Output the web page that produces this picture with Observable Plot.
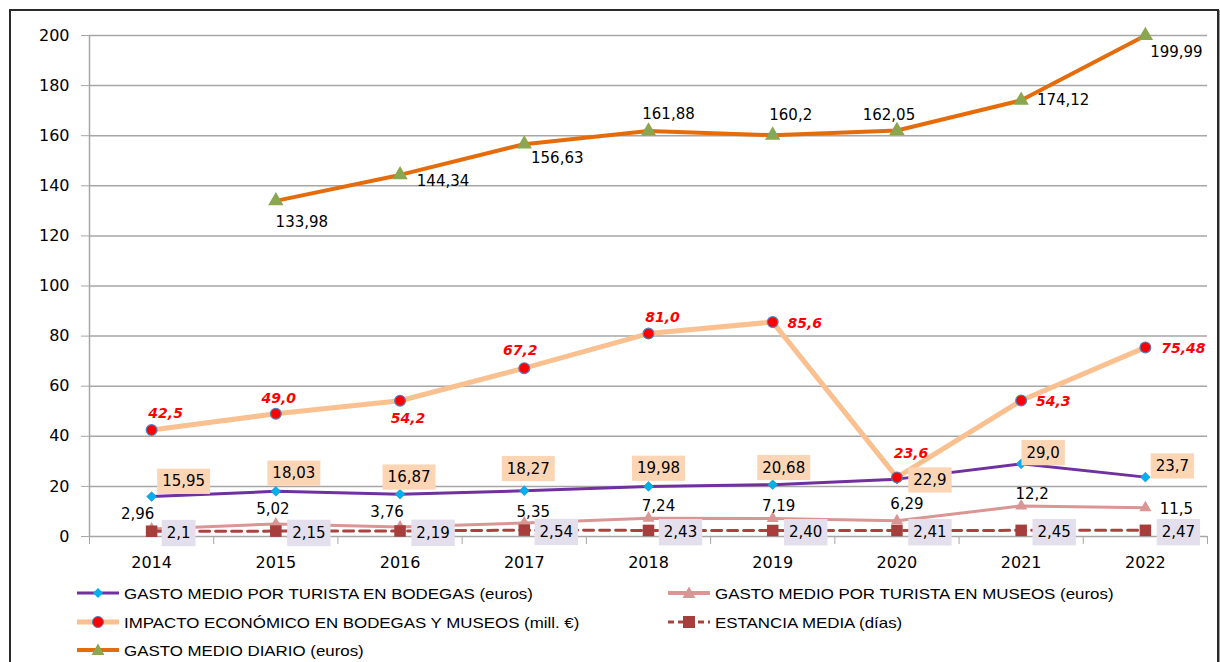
<!DOCTYPE html>
<html>
<head>
<meta charset="utf-8">
<script src="https://cdn.jsdelivr.net/npm/d3@7"></script>
<script src="https://cdn.jsdelivr.net/npm/@observablehq/plot@0.6"></script>
<style>
  html, body { margin: 0; padding: 0; background: #fff; }
  #wrap { position: relative; width: 1220px; height: 662px; overflow: hidden; background: #fff; }
  #chart { position: absolute; left: 0; top: 0; }
  .frame { position: absolute; left: 9px; top: 9px; width: 1206px; height: 720px; border: 2px solid #2a2a2a; box-shadow: 1px 1px 0 #9a9a9a; pointer-events: none; }
  .leg { position: absolute; height: 20px; display: flex; align-items: center; font-family: "Liberation Sans", Arial, sans-serif; font-size: 15px; color: #000; white-space: nowrap; }
  .leg svg { margin-right: 5px; }
  .leg span { display: inline-block; transform: scaleX(1.125); transform-origin: left center; }
</style>
</head>
<body>
<div id="wrap">
  <div id="chart"></div>
  <div id="legend"></div>
  <div class="frame"></div>
</div>
<script>
// ---------------- DATA ----------------
const years = [2014, 2015, 2016, 2017, 2018, 2019, 2020, 2021, 2022];
const yTicks = [0, 20, 40, 60, 80, 100, 120, 140, 160, 180, 200];

const bodegas = [15.95, 18.03, 16.87, 18.27, 19.98, 20.68, 22.9, 29.0, 23.7];
const bodegasLabels = ["15,95", "18,03", "16,87", "18,27", "19,98", "20,68", "22,9", "29,0", "23,7"];

const museos = [2.96, 5.02, 3.76, 5.35, 7.24, 7.19, 6.29, 12.2, 11.5];
const museosLabels = ["2,96", "5,02", "3,76", "5,35", "7,24", "7,19", "6,29", "12,2", "11,5"];

const impacto = [42.5, 49.0, 54.2, 67.2, 81.0, 85.6, 23.6, 54.3, 75.48];
const impactoLabels = ["42,5", "49,0", "54,2", "67,2", "81,0", "85,6", "23,6", "54,3", "75,48"];

const estancia = [2.1, 2.15, 2.19, 2.54, 2.43, 2.40, 2.41, 2.45, 2.47];
const estanciaLabels = ["2,1", "2,15", "2,19", "2,54", "2,43", "2,40", "2,41", "2,45", "2,47"];

const diario = [null, 133.98, 144.34, 156.63, 161.88, 160.2, 162.05, 174.12, 199.99];
const diarioLabels = [null, "133,98", "144,34", "156,63", "161,88", "160,2", "162,05", "174,12", "199,99"];

const seriesNames = [
  "GASTO MEDIO POR TURISTA EN BODEGAS (euros)",
  "GASTO MEDIO POR TURISTA EN MUSEOS (euros)",
  "IMPACTO ECONÓMICO EN BODEGAS Y MUSEOS (mill. €)",
  "ESTANCIA MEDIA (días)",
  "GASTO MEDIO DIARIO (euros)"
];

// ---------------- LABEL PLACEMENT (pixel offsets from each point) ----------------
const bodegasOffsets = [[32,-15],[18,-18],[9,-17],[4,-22],[10,-18],[11,-17],[33,1],[22,-11],[27,-11]];
const museosOffsets = [[-14,-15],[-3,-15],[-13,-15],[9,-11],[10,-12],[6,-12],[10,-17],[11,-12],[31,1]];
const impactoOffsets = [[14,-17],[3,-15],[8,18],[-4,-18],[14,-16],[32,1],[14,-24],[32,1],[38,1]];
const estanciaOffsets = [[27,2],[33,2],[33,2],[32,2],[32,2],[33,2],[33,2],[33,2],[33,2]];
const diarioOffsets = [null,[26,21],[43,6],[33,14],[20,-17],[18,-20],[-8,-15],[42,0],[31,17]];

// ---------------- STYLES ----------------
const C = {
  grid: "#a6a6a6",
  bodegas: "#7030A0", bodegasDot: "#00B0F0",
  museos: "#D99694",
  impacto: "#FAC090", impactoDot: "#FF0000", impactoDotStroke: "#4F81BD",
  estancia: "#A8443F", estanciaDot: "#A63F3C",
  diario: "#E46C0A", diarioDot: "#8AA64F",
  boxBodegas: "#FCD5B5", boxEstancia: "#E4DFEC"
};

const rows = vals => years.map((year, i) => ({year, v: vals[i]})).filter(d => d.v != null);

const tagged = cls => ({
  render(index, scales, values, dims, context, next) {
    const g = next(index, scales, values, dims, context);
    if (g) g.classList.add(cls);
    return g;
  }
});

function labels(vals, texts, offsets, opts) {
  const out = [];
  years.forEach((year, i) => {
    if (vals[i] == null) return;
    out.push(Plot.text([{year, v: vals[i], t: texts[i]}], {
      x: "year", y: "v", text: "t",
      dx: offsets[i][0], dy: offsets[i][1],
      textAnchor: "middle", ...opts
    }));
  });
  return out;
}

const boundaries = d3.range(years.length + 1).map(i => years[0] - 0.5 + i);

const W = 1220, H = 575;
const plot = Plot.plot({
  width: W, height: H,
  marginLeft: 89, marginRight: 13, marginTop: 35, marginBottom: 39,
  x: {type: "linear", domain: [years[0] - 0.5, years[years.length - 1] + 0.5]},
  y: {domain: [0, 200]},
  style: {fontFamily: "DejaVu Sans", fontSize: "15px", background: "transparent", color: "#000"},
  marks: [
    Plot.gridY(yTicks, {stroke: C.grid, strokeOpacity: 1, strokeWidth: 1.5}),
    Plot.ruleX([years[0] - 0.5], {stroke: C.grid, strokeWidth: 1.5}),
    Plot.axisY({ticks: yTicks, tickSize: 8, tickPadding: 12, stroke: C.grid, strokeOpacity: 1, fill: "#000", fontSize: 16, label: null, tickFormat: d => String(d)}),
    Plot.axisX({ticks: boundaries, tickSize: 8, tickFormat: () => "", stroke: C.grid, strokeOpacity: 1, label: null}),
    Plot.axisX({ticks: years, tickSize: 0, tickPadding: 20, tickFormat: d => String(d), fill: "#000", fontSize: 16, label: null}),

    // series: bodegas
    Plot.line(rows(bodegas), {x: "year", y: "v", stroke: C.bodegas, strokeWidth: 3}),
    Plot.dot(rows(bodegas), {x: "year", y: "v", symbol: "diamond2", r: 4.4, fill: C.bodegasDot, stroke: "#3d8fc4", strokeWidth: 0.7}),
    // museos
    Plot.line(rows(museos), {x: "year", y: "v", stroke: C.museos, strokeWidth: 3}),
    Plot.dot(rows(museos), {x: "year", y: "v", symbol: "triangle", r: 4.5, fill: C.museos, stroke: "none"}),
    // impacto
    Plot.line(rows(impacto), {x: "year", y: "v", stroke: C.impacto, strokeWidth: 5}),
    Plot.dot(rows(impacto), {x: "year", y: "v", r: 5.4, fill: C.impactoDot, stroke: C.impactoDotStroke, strokeWidth: 1.2}),
    // estancia
    Plot.line(rows(estancia), {x: "year", y: "v", stroke: C.estancia, strokeWidth: 3, strokeDasharray: "10,6"}),
    Plot.dot(rows(estancia), {x: "year", y: "v", symbol: "square", r: 6.5, fill: C.estanciaDot, stroke: "none"}),
    // diario
    Plot.line(rows(diario), {x: "year", y: "v", stroke: C.diario, strokeWidth: 4}),
    Plot.dot(rows(diario), {x: "year", y: "v", symbol: "triangle", r: 5.7, fill: C.diarioDot, stroke: "none"}),

    // labels
    ...labels(museos, museosLabels, museosOffsets, {fill: "#000", fontSize: 15}),
    ...labels(diario, diarioLabels, diarioOffsets, {fill: "#000", fontSize: 15}),
    ...labels(impacto, impactoLabels, impactoOffsets, {fill: C.impactoDot, fontSize: 14, fontWeight: "bold", fontStyle: "italic"}),
    ...labels(bodegas, bodegasLabels, bodegasOffsets, {fill: "#000", fontSize: 15, ...tagged("box-bodegas")}),
    ...labels(estancia, estanciaLabels, estanciaOffsets, {fill: "#000", fontSize: 15, ...tagged("box-estancia")})
  ]
});

document.getElementById("chart").append(plot);

// label backgrounds
function addBoxes(cls, color, padX, padY) {
  plot.querySelectorAll("g." + cls + " text").forEach(t => {
    const b = t.getBBox();
    const r = document.createElementNS("http://www.w3.org/2000/svg", "rect");
    r.setAttribute("x", b.x - padX);
    r.setAttribute("y", b.y - padY);
    r.setAttribute("width", b.width + 2 * padX);
    r.setAttribute("height", b.height + 2 * padY);
    r.setAttribute("fill", color);
    const tr = t.getAttribute("transform");
    if (tr) r.setAttribute("transform", tr);
    t.parentNode.insertBefore(r, t);
  });
}
addBoxes("box-bodegas", C.boxBodegas, 5, 3.6);
addBoxes("box-estancia", C.boxEstancia, 5, 4.2);

// ---------------- LEGEND ----------------
const legendItems = [
  {name: seriesNames[0], line: C.bodegas, w: 3, dash: null, sym: "diamond", fill: C.bodegasDot, left: 77, top: 583},
  {name: seriesNames[1], line: C.museos, w: 4, dash: null, sym: "triangle", fill: C.museos, left: 668, top: 583},
  {name: seriesNames[2], line: C.impacto, w: 5, dash: null, sym: "circle", fill: C.impactoDot, left: 77, top: 612},
  {name: seriesNames[3], line: C.estancia, w: 3, dash: "6,4", sym: "square", fill: C.estanciaDot, left: 668, top: 612},
  {name: seriesNames[4], line: C.diario, w: 4, dash: null, sym: "triangle", fill: C.diarioDot, left: 77, top: 640}
];
const legend = document.getElementById("legend");
legendItems.forEach(it => {
  const div = document.createElement("div");
  div.className = "leg";
  div.style.left = it.left + "px";
  div.style.top = it.top + "px";
  let marker = "";
  if (it.sym === "diamond") marker = `<path d="M21,3 L26,8 L21,13 L16,8 Z" fill="${it.fill}"/>`;
  if (it.sym === "triangle") marker = `<path d="M21,1.5 L27.5,13 L14.5,13 Z" fill="${it.fill}"/>`;
  if (it.sym === "circle") marker = `<circle cx="21" cy="8" r="5.5" fill="${it.fill}" stroke="${C.impactoDotStroke}" stroke-width="1"/>`;
  if (it.sym === "square") marker = `<rect x="15" y="2" width="12" height="12" fill="${it.fill}"/>`;
  div.innerHTML = `<svg width="42" height="16" viewBox="0 0 42 16"><line x1="0" y1="8" x2="42" y2="8" stroke="${it.line}" stroke-width="${it.w}" ${it.dash ? `stroke-dasharray="${it.dash}"` : ""}/>${marker}</svg><span>${it.name}</span>`;
  legend.append(div);
});
</script>
</body>
</html>
